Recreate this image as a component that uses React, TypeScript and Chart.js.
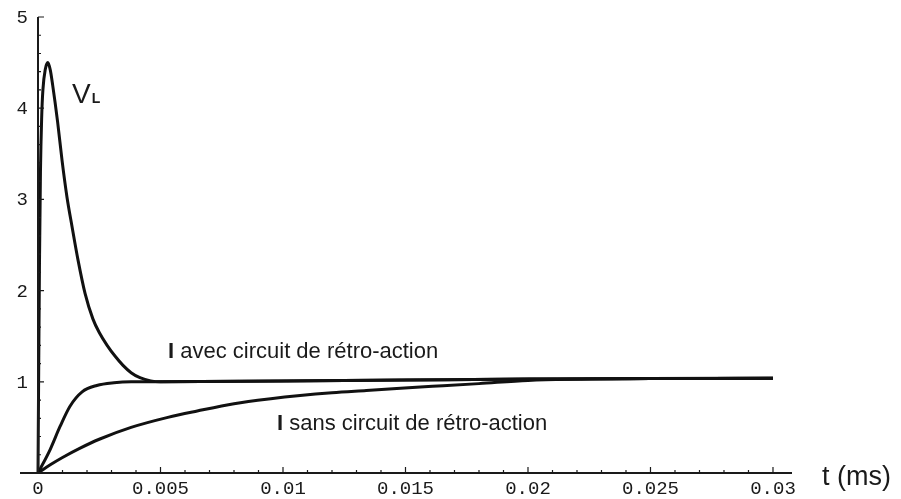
import React, { useEffect, useRef } from "react";
import { Chart, registerables } from "chart.js";

Chart.register(...registerables);

// Time axis (ms)
const T_VL = [0, 0.00003, 0.00006, 0.0001, 0.00015, 0.0002, 0.0003, 0.0004, 0.0005, 0.0006, 0.0008, 0.00098, 0.00118, 0.00139, 0.00163, 0.00192, 0.00224, 0.0025, 0.00282, 0.00315, 0.00347, 0.0038, 0.00416, 0.0046, 0.005, 0.01, 0.015, 0.02, 0.025, 0.03];
const VL = [0, 1.2, 2.3, 3.3, 3.9, 4.2, 4.43, 4.5, 4.42, 4.25, 3.85, 3.43, 3.03, 2.7, 2.34, 1.97, 1.69, 1.54, 1.4, 1.28, 1.18, 1.1, 1.045, 1.01, 1.0, 1.01, 1.02, 1.03, 1.035, 1.04];

const T_AVEC = [0, 0.0001, 0.0005, 0.0009, 0.0013, 0.0018, 0.0024, 0.0031, 0.0038, 0.005, 0.01, 0.015, 0.02, 0.025, 0.03];
const I_AVEC = [0, 0.05, 0.26, 0.51, 0.73, 0.89, 0.96, 0.99, 1.0, 1.0, 1.01, 1.02, 1.03, 1.035, 1.04];

const T_SANS = [0, 0.0005, 0.001, 0.0017, 0.0025, 0.0038, 0.0053, 0.0065, 0.008, 0.0095, 0.0107, 0.012, 0.0134, 0.0148, 0.0161, 0.018, 0.02, 0.025, 0.03];
const I_SANS = [0, 0.09, 0.17, 0.27, 0.37, 0.5, 0.61, 0.68, 0.76, 0.815, 0.85, 0.88, 0.905, 0.93, 0.95, 0.98, 1.015, 1.035, 1.04];

const X_TICKS = [0, 0.005, 0.01, 0.015, 0.02, 0.025, 0.03];
const X_TICK_LABELS = ["0", "0.005", "0.01", "0.015", "0.02", "0.025", "0.03"];
const X_MINOR_STEP = 0.001;
const Y_TICKS = [1, 2, 3, 4, 5];
const Y_TICK_LABELS = ["1", "2", "3", "4", "5"];
const Y_MINOR_STEP = 0.2;

const X_MIN = -0.000735;
const X_MAX = 0.030776;
const Y_MIN = 0;
const Y_MAX = 5;

const LABEL_VL = "V";
const LABEL_VL_SUB = "L";
const LABEL_AVEC = " avec circuit de rétro-action";
const LABEL_SANS = " sans circuit de rétro-action";
const LABEL_I = "I";
const LABEL_X = "t (ms)";

function pts(t: number[], v: number[]) {
  return t.map((x, i) => ({ x, y: v[i] }));
}

const axesPlugin = {
  id: "mathematicaAxes",
  afterDatasetsDraw(chart: any) {
    const ctx = chart.ctx as CanvasRenderingContext2D;
    const xs = chart.scales.x;
    const ys = chart.scales.y;
    const x0 = xs.getPixelForValue(0);
    const y0 = ys.getPixelForValue(0);
    ctx.save();
    ctx.strokeStyle = "#1a1a1a";
    ctx.lineWidth = 2;
    ctx.beginPath();
    ctx.moveTo(xs.getPixelForValue(X_MIN), y0);
    ctx.lineTo(xs.getPixelForValue(X_MAX), y0);
    ctx.moveTo(x0, y0);
    ctx.lineTo(x0, ys.getPixelForValue(Y_MAX));
    ctx.stroke();
    ctx.lineWidth = 1.2;
    ctx.beginPath();
    for (let k = 0; k <= 30; k++) {
      const px = xs.getPixelForValue(k * X_MINOR_STEP);
      const major = k % 5 === 0;
      ctx.moveTo(px, y0);
      ctx.lineTo(px, y0 - (major ? 6 : 3));
    }
    for (let k = 0; k <= 25; k++) {
      const py = ys.getPixelForValue(k * Y_MINOR_STEP);
      const major = k % 5 === 0;
      ctx.moveTo(x0, py);
      ctx.lineTo(x0 + (major ? 6 : 3), py);
    }
    ctx.stroke();
    ctx.fillStyle = "#1a1a1a";
    ctx.font = "19px 'Liberation Mono', monospace";
    ctx.textAlign = "center";
    ctx.textBaseline = "top";
    X_TICKS.forEach((v, i) => {
      ctx.fillText(X_TICK_LABELS[i], xs.getPixelForValue(v), y0 + 6);
    });
    ctx.textAlign = "right";
    ctx.textBaseline = "middle";
    Y_TICKS.forEach((v, i) => {
      ctx.fillText(Y_TICK_LABELS[i], x0 - 10, ys.getPixelForValue(v) + 1);
    });
    ctx.textAlign = "left";
    ctx.textBaseline = "alphabetic";
    ctx.font = "28px 'Liberation Sans', Arial, sans-serif";
    ctx.fillText(LABEL_VL, 72, 103);
    const vw = ctx.measureText(LABEL_VL).width;
    ctx.font = "bold 14px 'Liberation Sans', Arial, sans-serif";
    ctx.fillText(LABEL_VL_SUB, 72 + vw + 1, 103);

    const drawLabel = (x: number, y: number, rest: string) => {
      ctx.font = "bold 22px 'Liberation Sans', Arial, sans-serif";
      ctx.fillText(LABEL_I, x, y);
      const iw = ctx.measureText(LABEL_I).width;
      ctx.font = "22px 'Liberation Sans', Arial, sans-serif";
      ctx.fillText(rest, x + iw, y);
    };
    drawLabel(168, 358, LABEL_AVEC);
    drawLabel(277, 430, LABEL_SANS);

    ctx.font = "27px 'Liberation Sans', Arial, sans-serif";
    ctx.fillText(LABEL_X, 822, 485);
    ctx.restore();
  },
};

export default function App() {
  const ref = useRef<HTMLCanvasElement | null>(null);
  useEffect(() => {
    if (!ref.current) return;
    const line = { borderColor: "#111", borderWidth: 3, pointRadius: 0, showLine: true, cubicInterpolationMode: "monotone" as const, fill: false };
    const chart = new Chart(ref.current, {
      type: "scatter",
      data: {
        datasets: [
          { label: "VL", data: pts(T_VL, VL), ...line },
          { label: "I avec", data: pts(T_AVEC, I_AVEC), ...line },
          { label: "I sans", data: pts(T_SANS, I_SANS), ...line },
        ],
      },
      options: {
        animation: false,
        responsive: false,
        maintainAspectRatio: false,
        layout: { padding: { left: 20, right: 109, top: 17, bottom: 26 } },
        plugins: { legend: { display: false }, tooltip: { enabled: false } },
        scales: {
          x: { type: "linear", min: X_MIN, max: X_MAX, display: false },
          y: { type: "linear", min: Y_MIN, max: Y_MAX, display: false },
        },
      },
      plugins: [axesPlugin],
    });
    return () => chart.destroy();
  }, []);
  return (
    <div style={{ position: "absolute", left: 0, top: 0, width: 901, height: 499, background: "#fff" }}>
      <canvas ref={ref} width={901} height={499} style={{ width: 901, height: 499, display: "block" }} />
    </div>
  );
}
